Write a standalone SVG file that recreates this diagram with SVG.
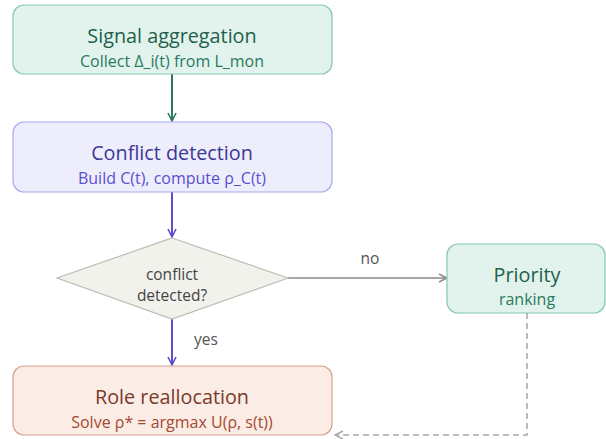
<svg xmlns="http://www.w3.org/2000/svg" width="606" height="439" viewBox="0 0 606 439">
<style>
text{font-family:"Open Sans","Noto Sans","DejaVu Sans",sans-serif;text-anchor:middle}
.t{font-size:19.8px}
.s{font-size:16px}
.l{font-size:15.5px;fill:#555}
.green rect{fill:#e1f3ec;stroke:#86c8b0;stroke-width:1.2}
.green .t{fill:#1f5f4b}
.green .s{fill:#2b7a5f}
.purple rect{fill:#ededfc;stroke:#aaa8ec;stroke-width:1.2}
.purple .t{fill:#3b3996}
.purple .s{fill:#5b50cc}
.red rect{fill:#fbece6;stroke:#d9a08e;stroke-width:1.2}
.red .t{fill:#7a3a28}
.red .s{fill:#a5492f}
</style>
<defs>
<marker id="ag" viewBox="0 0 10 10" refX="9" refY="5" markerWidth="10" markerHeight="10" markerUnits="userSpaceOnUse" orient="auto"><path d="M1,1 L9,5 L1,9" fill="none" stroke="#2b7a5f" stroke-width="1.6"/></marker>
<marker id="ap" viewBox="0 0 10 10" refX="9" refY="5" markerWidth="10" markerHeight="10" markerUnits="userSpaceOnUse" orient="auto"><path d="M1,1 L9,5 L1,9" fill="none" stroke="#5b50cc" stroke-width="1.6"/></marker>
<marker id="ay" viewBox="0 0 10 10" refX="9" refY="5" markerWidth="10" markerHeight="10" markerUnits="userSpaceOnUse" orient="auto"><path d="M1,1 L9,5 L1,9" fill="none" stroke="#888" stroke-width="1.4"/></marker>
<marker id="al" viewBox="0 0 10 10" refX="9" refY="5" markerWidth="10" markerHeight="10" markerUnits="userSpaceOnUse" orient="auto"><path d="M1,1 L9,5 L1,9" fill="none" stroke="#aaa" stroke-width="1.4"/></marker>
</defs>
<g id="connectors">
<line x1="172" y1="74" x2="172" y2="121" stroke="#2b7a5f" stroke-width="2" marker-end="url(#ag)"/>
<line x1="172" y1="192" x2="172" y2="237" stroke="#5b50cc" stroke-width="2" marker-end="url(#ap)"/>
<line x1="172" y1="319" x2="172" y2="365" stroke="#5b50cc" stroke-width="2" marker-end="url(#ap)"/>
<line x1="288" y1="278" x2="447" y2="278" stroke="#888" stroke-width="1.6" marker-end="url(#ay)"/>
<polyline points="527,313 527,435 335,435" fill="none" stroke="#aaa" stroke-width="1.6" stroke-dasharray="6,4" marker-end="url(#al)"/>
<text class="l" x="370" y="264">no</text>
<text class="l" x="206" y="345">yes</text>
</g>
<g id="signal" class="green">
<rect x="13" y="5" width="319" height="69" rx="11"/>
<text class="t" x="172" y="43">Signal aggregation</text>
<text class="s" x="172" y="67">Collect Δ_i(t) from L_mon</text>
</g>
<g id="conflict" class="purple">
<rect x="13" y="122" width="319" height="70" rx="11"/>
<text class="t" x="172" y="160">Conflict detection</text>
<text class="s" x="172" y="184">Build C(t), compute ρ_C(t)</text>
</g>
<g id="decision">
<polygon points="172,238 288,278 172,319 57,278" fill="#f2f2ec" stroke="#bdbdb5" stroke-width="1.2"/>
<text x="172" y="280" font-size="15.5" fill="#444">conflict</text>
<text x="172" y="301" font-size="15.5" fill="#444">detected?</text>
</g>
<g id="priority" class="green">
<rect x="447" y="244" width="158" height="69" rx="11"/>
<text class="t" x="527" y="282">Priority</text>
<text class="s" x="527" y="305">ranking</text>
</g>
<g id="role" class="red">
<rect x="13" y="366" width="319" height="69" rx="11"/>
<text class="t" x="172" y="404">Role reallocation</text>
<text class="s" x="172" y="428">Solve ρ* = argmax U(ρ, s(t))</text>
</g>
</svg>
